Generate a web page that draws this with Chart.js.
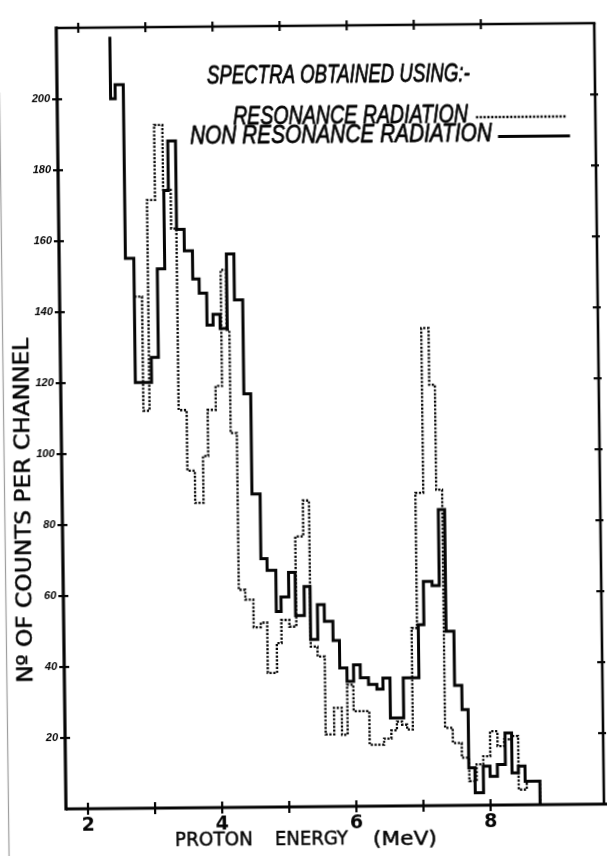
<!DOCTYPE html>
<html>
<head>
<meta charset="utf-8">
<script src="https://cdn.jsdelivr.net/npm/chart.js@4.4.1/dist/chart.umd.min.js"></script>
<style>
  html, body { margin: 0; padding: 0; background: #fff; overflow: hidden; }
  canvas {
    display: block;
    /* the sheet sits slightly askew */
    transform-origin: 66px 809px;
    transform: matrix(1, -0.009, 0.0125, 1, 0, 0);
  }
</style>
</head>
<body>
<canvas id="c" width="607" height="856"></canvas>
<script>
// Proton spectra: channel edges (MeV) and counts per channel.
// Non resonance radiation (solid histogram)
const nonResEdges = [2.469, 2.538, 2.660, 2.785, 3.027, 3.133, 3.244, 3.313, 3.428, 3.540,
  3.660, 3.754, 3.864, 3.955, 4.059, 4.165, 4.277, 4.400, 4.502, 4.623,
  4.714, 4.843, 4.915, 5.032, 5.130, 5.261, 5.350, 5.456, 5.558, 5.684,
  5.778, 5.884, 5.983, 6.083, 6.204, 6.328, 6.419, 6.524, 6.722, 6.956,
  7.040, 7.169, 7.276, 7.370, 7.486, 7.593, 7.683, 7.774, 7.898, 7.999,
  8.108, 8.228, 8.326, 8.421, 8.520, 8.739];
const nonResCounts = [200, 204, 155, 120, 127, 152, 174, 188, 163, 157,
  149, 145, 136, 139, 135, 156, 143, 116.5, 88.3, 70,
  66.7, 55.1, 59.2, 66.1, 53.9, 62.1, 47.1, 56.9, 52.2, 46.8,
  39.0, 35.2, 39.9, 36.2, 34.3, 33.0, 36.1, 24.8, 36.1, 51.0,
  63.2, 62.0, 83.4, 49.1, 33.8, 27.0, 10.6, 3.5, 11.0, 8.1,
  11.4, 20.3, 9.0, 10.9, 6.6];
// the solid trace enters from above the first channel
const nonResLeadIn = 217.5;

// Resonance radiation (dotted histogram)
const resEdges = [2.785, 2.900, 2.992, 3.112, 3.235, 3.347, 3.425, 3.544, 3.655, 3.779,
  3.857, 3.979, 4.076, 4.156, 4.196, 4.288, 4.384, 4.503, 4.609, 4.705,
  4.844, 4.916, 5.035, 5.139, 5.259, 5.350, 5.450, 5.556, 5.684, 5.800,
  5.884, 5.977, 6.210, 6.426, 6.535, 6.619, 6.697, 6.771, 6.856, 6.937,
  7.055, 7.164, 7.248, 7.336, 7.450, 7.582, 7.689, 7.799, 7.900, 8.005,
  8.115, 8.214, 8.330, 8.423, 8.543, 8.739];
const resCounts = [144.2, 112.0, 171.4, 192.5, 174.2, 163.3, 112.1, 95.0, 85.9, 99.1,
  112.1, 118.8, 151.5, 134.6, 105.5, 61.3, 58.5, 50.7, 52.0, 37.8,
  46.2, 52.7, 50.8, 76.2, 86.3, 45.1, 42.3, 20.3, 27.8, 20.2,
  34.3, 26.8, 17.3, 19.0, 21.3, 23.8, 22.9, 21.5, 50.1, 88.2,
  134.6, 118.6, 89.0, 21.9, 17.6, 13.4, 6.8, 11.5, 13.8, 20.8,
  16.6, 18.5, 19.4, 4.3, 6.6];

// Axes
const xTicks = [2, 3, 4, 5, 6, 7, 8];
const xTickLabels = ['2', '', '4', '', '6', '', '8'];
const yTicks = [20, 40, 60, 80, 100, 120, 140, 160, 180, 200];
const yTickLabels = ['20', '40', '60', '80', '100', '120', '140', '160', '180', '200'];
const xRange = [1.672, 9.690];
const yRange = [0, 220.1];

// Texts
const titleText = 'SPECTRA OBTAINED USING:-';
const resLabel = 'RESONANCE RADIATION';
const nonResLabel = 'NON RESONANCE RADIATION';
const xTitleWords = ['PROTON', 'ENERGY', '(MeV)'];
const yTitle = 'N\u00BA OF COUNTS PER CHANNEL';

// histogram outline: a point at each left edge, closed down to the axis at the end
function histogramPoints(edges, counts, leadIn) {
  const pts = [];
  if (leadIn != null) pts.push({ x: edges[0], y: leadIn });
  counts.forEach((c, i) => pts.push({ x: edges[i], y: c }));
  const last = edges[edges.length - 1];
  pts.push({ x: last, y: counts[counts.length - 1] });
  pts.push({ x: last, y: 0 });
  return pts;
}

const INK = '#050505';
const LETTER_FONT = '"Liberation Sans", Arial, sans-serif';

// draws a line of lettering squeezed to a given width; a thin outline gives pen weight
function fitText(ctx, text, left, mid, width, font, weight) {
  ctx.save();
  ctx.font = font;
  ctx.textBaseline = 'middle';
  ctx.textAlign = 'left';
  const w = ctx.measureText(text).width;
  ctx.translate(left, mid);
  ctx.scale(width / w, 1);
  ctx.fillText(text, 0, 0);
  if (weight) {
    ctx.lineWidth = weight;
    ctx.lineJoin = 'round';
    ctx.strokeText(text, 0, 0);
  }
  ctx.restore();
}

function seg(ctx, x1, y1, x2, y2) {
  ctx.beginPath(); ctx.moveTo(x1, y1); ctx.lineTo(x2, y2); ctx.stroke();
}

const framePlugin = {
  id: 'frameAndText',
  afterDatasetsDraw(chart) {
    const { ctx, chartArea: a, scales: { x, y } } = chart;
    ctx.save();
    ctx.strokeStyle = INK;
    ctx.fillStyle = INK;
    ctx.lineCap = 'butt';

    // sheet edge
    ctx.save();
    ctx.strokeStyle = 'rgba(60,60,60,0.5)';
    ctx.lineWidth = 1.2;
    seg(ctx, 8.5, 92, 8.5, 880);
    ctx.restore();

    // frame
    ctx.lineWidth = 3.2;
    seg(ctx, a.left, a.top - 1.5, a.left, a.bottom + 1.6);
    seg(ctx, a.left, a.bottom, chart.width + 12, a.bottom);
    ctx.lineWidth = 2.6;
    seg(ctx, a.left, a.top, a.right + 1.3, a.top);
    seg(ctx, a.right, a.top, a.right, a.bottom);

    // tick marks crossing the frame
    ctx.lineWidth = 2.2;
    xTicks.forEach(v => {
      const px = x.getPixelForValue(v);
      seg(ctx, px, a.bottom - 6, px, a.bottom + 6);
      seg(ctx, px, a.top - 5, px, a.top + 5);
    });
    yTicks.forEach(v => {
      const py = y.getPixelForValue(v);
      seg(ctx, a.left - 5, py, a.left + 5, py);
      seg(ctx, a.right - 5, py, a.right + 5, py);
    });

    // heading and legend
    const italic = 'italic 400 25px ' + LETTER_FONT;
    fitText(ctx, titleText, 216, 78.4, 263, italic, 0.8);
    fitText(ctx, resLabel, 241.7, 118.6, 235, italic, 0.8);
    fitText(ctx, nonResLabel, 198.4, 138.5, 302, italic, 0.8);
    const sets = chart.data.datasets;
    ctx.lineWidth = sets[0].borderWidth;
    ctx.setLineDash(sets[0].borderDash);
    seg(ctx, 484.6, 121, 574.6, 121);
    ctx.lineWidth = sets[1].borderWidth;
    ctx.setLineDash([]);
    seg(ctx, 506.4, 140.5, 578.4, 140.5);

    // axis titles
    const axisFont = '400 20px "DejaVu Sans", sans-serif';
    fitText(ctx, xTitleWords[0], 174.6, 841.3, 78, axisFont, 0.5);
    fitText(ctx, xTitleWords[1], 274.6, 842.2, 73, axisFont, 0.5);
    fitText(ctx, xTitleWords[2], 372.6, 843.1, 64, axisFont, 0.5);
    ctx.save();
    ctx.translate(28.6, 682.6);
    ctx.rotate(-Math.PI / 2);
    fitText(ctx, yTitle, 0, 0, 345, '400 22px "DejaVu Sans", sans-serif', 0.5);
    ctx.restore();

    ctx.restore();
  }
};

new Chart(document.getElementById('c'), {
  type: 'line',
  data: {
    datasets: [
      {
        label: resLabel,
        data: histogramPoints(resEdges, resCounts),
        borderColor: INK,
        borderWidth: 2.3,
        borderDash: [2.2, 1.6],
        stepped: true,
        pointRadius: 0,
        fill: false
      },
      {
        label: nonResLabel,
        data: histogramPoints(nonResEdges, nonResCounts, nonResLeadIn),
        borderColor: INK,
        borderWidth: 3,
        stepped: true,
        pointRadius: 0,
        fill: false
      }
    ]
  },
  options: {
    responsive: false,
    devicePixelRatio: 1,
    animation: false,
    events: [],
    layout: { padding: { top: 28, right: 3, left: 0, bottom: 0 } },
    plugins: { legend: { display: false }, tooltip: { enabled: false } },
    scales: {
      x: {
        type: 'linear',
        min: xRange[0],
        max: xRange[1],
        grid: { display: false, drawTicks: false },
        border: { display: false },
        afterBuildTicks: s => { s.ticks = xTicks.map(v => ({ value: v })); },
        afterFit: s => { s.height = 47; },
        ticks: {
          autoSkip: false,
          maxRotation: 0,
          padding: 6,
          color: INK,
          font: { family: '"DejaVu Sans", sans-serif', size: 19, weight: 'bold' },
          callback: (v, i) => xTickLabels[i]
        }
      },
      y: {
        type: 'linear',
        min: yRange[0],
        max: yRange[1],
        grid: { display: false, drawTicks: false },
        border: { display: false },
        afterBuildTicks: s => { s.ticks = yTicks.map(v => ({ value: v })); },
        afterFit: s => { s.width = 66; },
        ticks: {
          autoSkip: false,
          padding: 7,
          color: INK,
          font: { family: '"Liberation Sans", Arial, sans-serif', size: 11, style: 'italic', weight: 'bold' },
          callback: (v, i) => yTickLabels[i]
        }
      }
    }
  },
  plugins: [framePlugin]
});
</script>
</body>
</html>
